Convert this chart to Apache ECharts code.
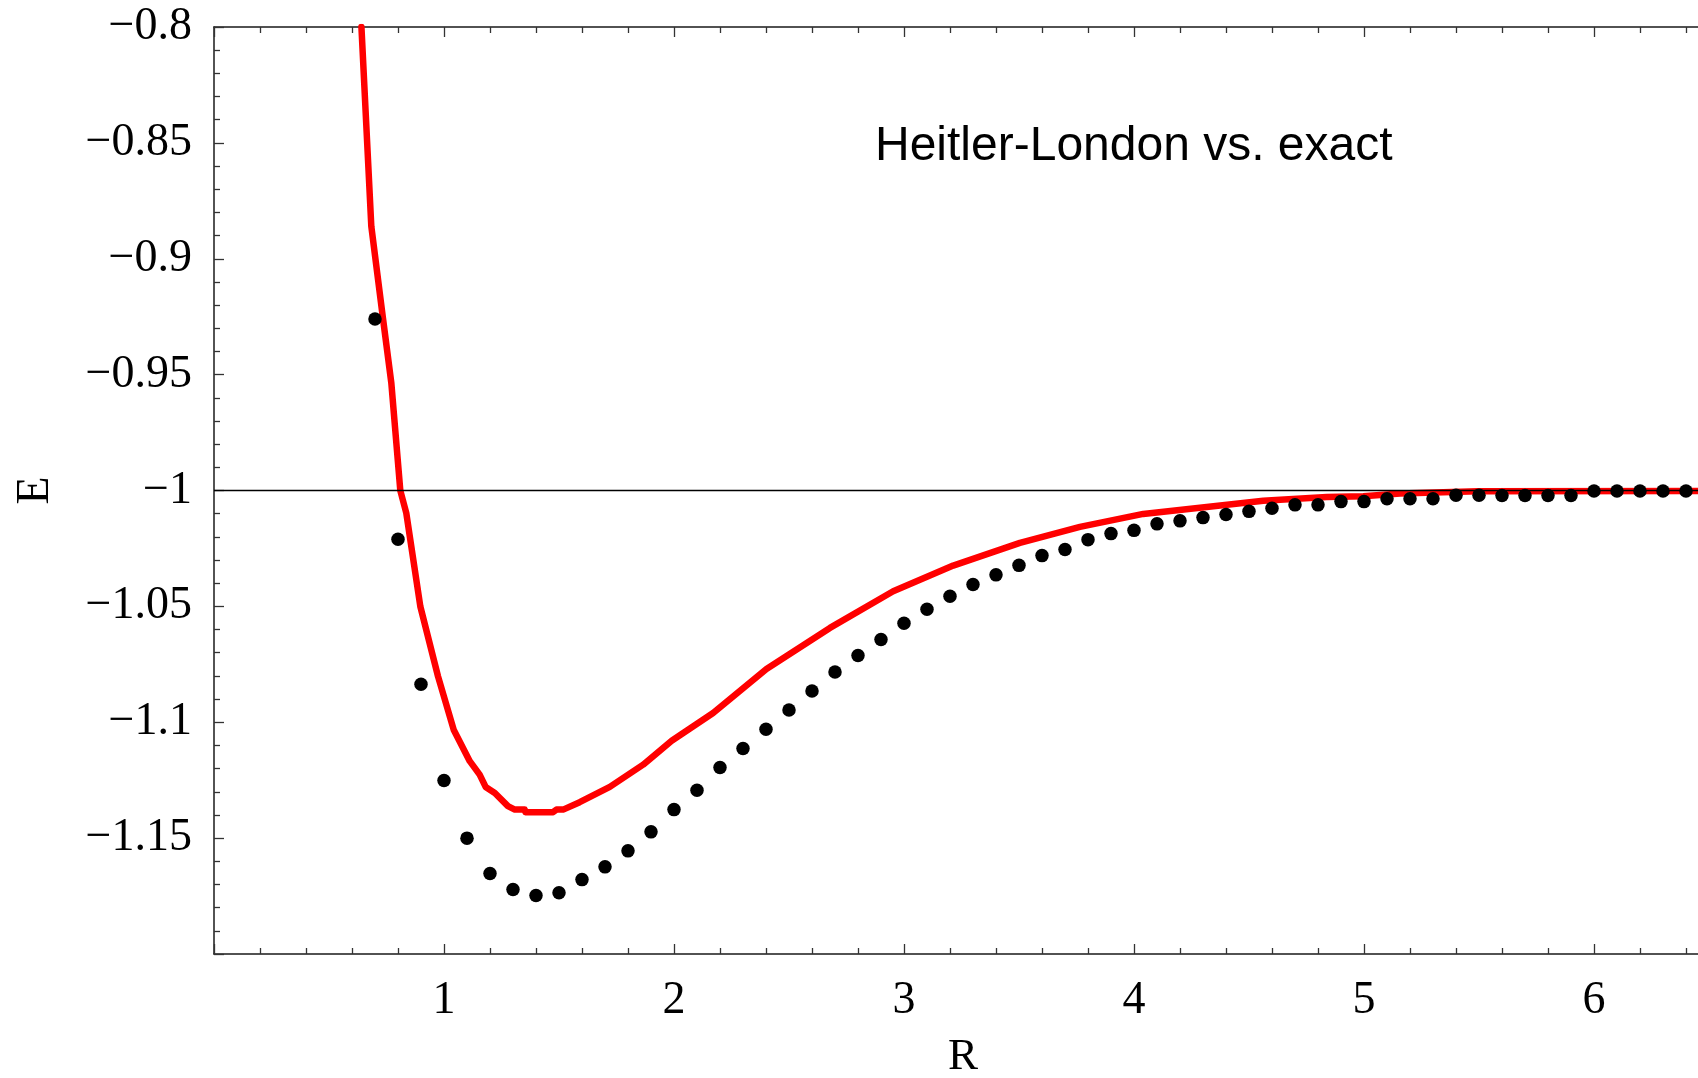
<!DOCTYPE html>
<html>
<head>
<meta charset="utf-8">
<script src="https://cdn.jsdelivr.net/npm/echarts@6/dist/echarts.min.js"></script>
<style>
html,body{margin:0;padding:0;background:#fff;}
#chart{width:1698px;height:1078px;}
</style>
</head>
<body>
<div id="chart"></div>
<script>
// Exact energies (black dots)
const exactR = [0.7,0.8,0.9,1.0,1.1,1.2,1.3,1.4,1.5,1.6,1.7,1.8,1.9,2.0,2.1,2.2,2.3,2.4,2.5,2.6,2.7,2.8,2.9,3.0,3.1,3.2,3.3,3.4,3.5,3.6,3.7,3.8,3.9,4.0,4.1,4.2,4.3,4.4,4.5,4.6,4.7,4.8,4.9,5.0,5.1,5.2,5.3,5.4,5.5,5.6,5.7,5.8,5.9,6.0,6.1,6.2,6.3,6.4];
const exactE = [-0.926,-1.021,-1.0836,-1.1251,-1.150,-1.1653,-1.1722,-1.1748,-1.1736,-1.1679,-1.1624,-1.1555,-1.1473,-1.1377,-1.1293,-1.1195,-1.1113,-1.103,-1.0947,-1.0865,-1.0783,-1.0712,-1.0643,-1.0573,-1.0512,-1.0456,-1.0406,-1.0364,-1.0323,-1.0281,-1.0255,-1.0212,-1.0186,-1.0172,-1.0144,-1.0131,-1.0117,-1.0104,-1.009,-1.0077,-1.0062,-1.0062,-1.0048,-1.0048,-1.0036,-1.0036,-1.0036,-1.0020,-1.0020,-1.0022,-1.0022,-1.0022,-1.0022,-1.0002,-1.0002,-1.0002,-1.0002,-1.0002];

// Heitler-London energies (red curve)
const hlR = [0.641,0.684,0.735,0.771,0.810,0.836,0.897,0.974,1.042,1.112,1.155,1.181,1.221,1.278,1.308,1.351,1.354,1.474,1.489,1.518,1.590,1.721,1.866,1.99,2.170,2.402,2.678,2.953,3.214,3.504,3.765,4.04,4.562,4.838,4.997,5.157,5.495,7.0];
const hlE = [-0.8,-0.886,-0.926,-0.9536,-1.0,-1.0097,-1.05,-1.0802,-1.1032,-1.1168,-1.1226,-1.1279,-1.1305,-1.1362,-1.1377,-1.1377,-1.1388,-1.1388,-1.1377,-1.1377,-1.1345,-1.1279,-1.1183,-1.108,-1.0960,-1.077,-1.0593,-1.0435,-1.0324,-1.0226,-1.0157,-1.0101,-1.0044,-1.0028,-1.0025,-1.0013,-1.0003,-1.0002];

// Axis ticks
const xTickValues = [1,2,3,4,5,6];
const xTickLabels = ['1','2','3','4','5','6'];
const yTickValues = [-0.8,-0.85,-0.9,-0.95,-1,-1.05,-1.1,-1.15];
const yTickLabels = ['\u22120.8','\u22120.85','\u22120.9','\u22120.95','\u22121','\u22121.05','\u22121.1','\u22121.15'];
const refLevel = -1;
const titleText = 'Heitler-London vs. exact';
const xName = 'R';
const yName = 'E';

const serif = '"Liberation Serif","Times New Roman",serif';
const sans = '"Liberation Sans",Arial,sans-serif';

function lookup(vals, labels, v) {
  for (let i = 0; i < vals.length; i++) {
    if (Math.abs(vals[i] - v) < 1e-9) return labels[i];
  }
  return '';
}

const chart = echarts.init(document.getElementById('chart'), null, {renderer: 'canvas'});

const axisLineStyle = {color: '#1a1a1a', width: 1.5};
const tickStyle = {color: '#333', width: 1.3};

chart.setOption({
  animation: false,
  backgroundColor: '#ffffff',
  grid: {left: 214, right: -126, top: 27, bottom: 124, containLabel: false, outerBoundsMode: 'none'},
  graphic: [{
    type: 'text',
    left: 875,
    top: 123,
    style: {text: titleText, font: '48px ' + sans, fill: '#000'}
  }],
  xAxis: [{
    type: 'value',
    min: 0, max: 7, interval: 1,
    position: 'bottom',
    name: xName,
    nameLocation: 'middle',
    nameGap: 81,
    nameTextStyle: {fontFamily: serif, fontSize: 45, color: '#000', padding: [0, 112, 0, 0]},
    axisLine: {show: true, onZero: false, lineStyle: axisLineStyle},
    axisTick: {show: true, inside: true, length: 10, lineStyle: tickStyle},
    minorTick: {show: true, splitNumber: 5, length: 6, lineStyle: tickStyle},
    splitLine: {show: false},
    minorSplitLine: {show: false},
    axisLabel: {
      show: true, margin: 24, fontFamily: serif, fontSize: 46, color: '#000',
      showMinLabel: true, showMaxLabel: true,
      formatter: v => lookup(xTickValues, xTickLabels, v)
    }
  }, {
    type: 'value',
    min: 0, max: 7, interval: 1,
    position: 'top',
    axisLine: {show: true, onZero: false, lineStyle: axisLineStyle},
    axisTick: {show: true, inside: true, length: 10, lineStyle: tickStyle},
    minorTick: {show: true, splitNumber: 5, length: 6, lineStyle: tickStyle},
    splitLine: {show: false},
    axisLabel: {show: false}
  }],
  yAxis: [{
    type: 'value',
    min: -1.2, max: -0.8, interval: 0.05,
    position: 'left',
    name: yName,
    nameLocation: 'middle',
    nameRotate: 90,
    nameGap: 155,
    nameTextStyle: {fontFamily: serif, fontSize: 46, color: '#000'},
    axisLine: {show: true, onZero: false, lineStyle: axisLineStyle},
    axisTick: {show: true, inside: true, length: 10, lineStyle: tickStyle},
    minorTick: {show: true, splitNumber: 5, length: 6, lineStyle: tickStyle},
    splitLine: {show: false},
    minorSplitLine: {show: false},
    axisLabel: {
      show: true, margin: 22, fontFamily: serif, fontSize: 46, color: '#000',
      showMinLabel: true, showMaxLabel: true,
      formatter: v => lookup(yTickValues, yTickLabels, v)
    }
  }],
  series: [{
    type: 'line',
    name: 'Heitler-London',
    data: hlR.map((r, i) => [r, hlE[i]]),
    showSymbol: false,
    symbol: 'none',
    smooth: false,
    clip: true,
    lineStyle: {color: '#ff0000', width: 6.5, join: 'round', cap: 'round'},
    z: 3,
    markLine: {
      silent: true,
      symbol: ['none', 'none'],
      label: {show: false},
      lineStyle: {color: '#000', width: 1.3, type: 'solid'},
      data: [{yAxis: refLevel}]
    }
  }, {
    type: 'scatter',
    name: 'exact',
    data: exactR.map((r, i) => [r, exactE[i]]),
    symbol: 'circle',
    symbolSize: 13.5,
    itemStyle: {color: '#000', opacity: 1},
    clip: true,
    z: 4
  }]
});
</script>
</body>
</html>
